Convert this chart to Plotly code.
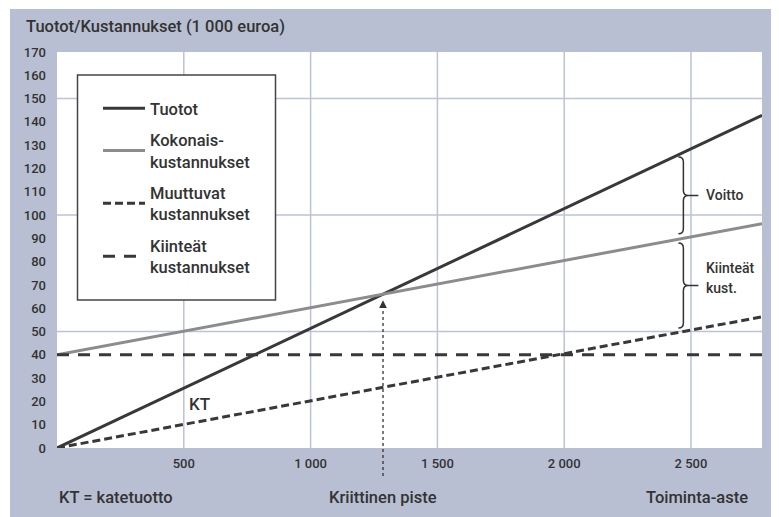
import plotly.graph_objects as go

# ---- data ----
toiminta_aste = [0, 2780]          # activity level (x)
tuotot = [0, 142.8]                # revenue
kokonaiskust = [40, 96.3]          # total costs
muuttuvat = [0, 56.3]              # variable costs
kiinteat = [40, 40]                # fixed costs

x_tick_vals = [500, 1000, 1500, 2000, 2500]
x_tick_text = ["500", "1 000", "1 500", "2 000", "2 500"]
y_tick_vals = list(range(0, 171, 10))
y_grid_vals = [50, 100, 150]
brace_x = 2470

# ---- styling ----
OFF = 8                      # page body margin (screen px)
W, H = 779, 517
# plot area in screen pixels: x 57..762, y 52..448
ML, MT = 57 - OFF, 52 - OFF
MR, MB = W - (762 - OFF), H - (448 - OFF)
PW, PH = W - ML - MR, H - MT - MB
BG = "#b8bfd2"
GRID = "#bcc3d7"
DARK = "#383838"
GRAY = "#8c8c8c"
TXT = "#333333"
FONT = "Roboto, DejaVu Sans Condensed, sans-serif"
XMAX, YMAX = toiminta_aste[-1], 170


def px_x(p):  # screen pixel -> paper
    return (p - OFF - ML) / PW


def px_y(p):
    return (H - MB - (p - OFF)) / PH


def lerp(xs, ys, x):
    return ys[0] + (ys[1] - ys[0]) * (x - xs[0]) / (xs[1] - xs[0])


fig = go.Figure()
fig.add_trace(go.Scatter(x=toiminta_aste, y=tuotot, mode="lines", name="Tuotot",
                         line=dict(color=DARK, width=3), legendgroup="a"))
fig.add_trace(go.Scatter(x=toiminta_aste, y=kokonaiskust, mode="lines", name="Kokonais-<br>kustannukset",
                         line=dict(color=GRAY, width=3), legendgroup="b"))
fig.add_trace(go.Scatter(x=toiminta_aste, y=muuttuvat, mode="lines", name="Muuttuvat<br>kustannukset",
                         line=dict(color=DARK, width=3, dash="8px,4px"), legendgroup="c"))
fig.add_trace(go.Scatter(x=toiminta_aste, y=kiinteat, mode="lines", name="Kiinteät<br>kustannukset",
                         line=dict(color=DARK, width=3, dash="12px,9px"), legendgroup="d"))

shapes = []
# thin white outer margins
shapes.append(dict(type="rect", xref="paper", yref="paper", x0=px_x(0), x1=px_x(10), y0=px_y(H + 20), y1=px_y(0),
                   fillcolor="white", line=dict(width=0), layer="below"))
shapes.append(dict(type="rect", xref="paper", yref="paper", x0=px_x(0), x1=px_x(W + 20), y0=px_y(9), y1=px_y(0),
                   fillcolor="white", line=dict(width=0), layer="below"))
# gridlines
for v in x_tick_vals:
    shapes.append(dict(type="line", xref="x", yref="paper", x0=v, x1=v, y0=0, y1=1,
                       line=dict(color=GRID, width=1.5), layer="below"))
for v in y_grid_vals:
    shapes.append(dict(type="line", xref="paper", yref="y", x0=0, x1=1, y0=v, y1=v,
                       line=dict(color=GRID, width=1.5), layer="below"))
# legend box
shapes.append(dict(type="rect", xref="paper", yref="paper", x0=px_x(77.5), x1=px_x(275.5),
                   y0=px_y(300), y1=px_y(75), fillcolor="white", line=dict(color="#444444", width=1.5),
                   layer="below"))

# break-even point
slope_r = (tuotot[1] - tuotot[0]) / (toiminta_aste[1] - toiminta_aste[0])
slope_c = (kokonaiskust[1] - kokonaiskust[0]) / (toiminta_aste[1] - toiminta_aste[0])
be_x = (kokonaiskust[0] - tuotot[0]) / (slope_r - slope_c)
be_y = tuotot[0] + slope_r * be_x
shapes.append(dict(type="line", xref="x", yref="paper", x0=be_x, x1=be_x, y0=px_y(476), y1=be_y / YMAX - 0.03,
                   line=dict(color=TXT, width=1.3, dash="dot"), layer="above"))

# braces
ux = XMAX / PW  # data units per px
uy = YMAX / PH


def brace(x0, top, bot):
    mid = (top + bot) / 2
    hw, ry = 5 * ux, 5 * uy
    p = (f"M{x0 - hw},{top} Q{x0},{top} {x0},{top - ry} L{x0},{mid + ry} "
         f"Q{x0},{mid} {x0 + hw},{mid} Q{x0},{mid} {x0},{mid - ry} "
         f"L{x0},{bot + ry} Q{x0},{bot} {x0 - hw},{bot} "
         f"M{x0 + hw},{mid} L{x0 + 15 * ux},{mid}")
    return dict(type="path", xref="x", yref="y", path=p, line=dict(color=TXT, width=1.5), layer="above"), mid


r_b = lerp(toiminta_aste, tuotot, brace_x)
t_b = lerp(toiminta_aste, kokonaiskust, brace_x)
v_b = lerp(toiminta_aste, muuttuvat, brace_x)
s1, m1 = brace(brace_x, r_b - 2, t_b + 2)
s2, m2 = brace(brace_x, t_b - 2, v_b + 1.5)
shapes += [s1, s2]

F = lambda s: dict(size=s, color=TXT, family=FONT, weight=500)

ann = []
ann.append(dict(text="Tuotot/Kustannukset (1 000 euroa)", xref="paper", yref="paper", x=px_x(24), y=px_y(27),
                xanchor="left", yanchor="middle", showarrow=False, font=F(16.5)))
ann.append(dict(text="Voitto", xref="x", yref="y", x=brace_x + 21 * ux, y=m1, xanchor="left", yanchor="middle",
                showarrow=False, font=F(14)))
ann.append(dict(text="Kiinteät", xref="x", yref="y", x=brace_x + 21 * ux, y=m2 + 17 * uy, xanchor="left",
                yanchor="middle", showarrow=False, font=F(14)))
ann.append(dict(text="kust.", xref="x", yref="y", x=brace_x + 21 * ux, y=m2 - 3 * uy, xanchor="left",
                yanchor="middle", showarrow=False, font=F(14)))
ann.append(dict(text="KT", xref="x", yref="y", x=560, y=19, xanchor="center", yanchor="middle",
                showarrow=False, font=F(17)))
ann.append(dict(text="", xref="x", yref="y", x=be_x, y=be_y, ax=0, ay=14, showarrow=True, arrowhead=2,
                arrowsize=1.3, arrowwidth=1.2, arrowcolor=TXT, standoff=6))
for txt, xp, anc in [("KT = katetuotto", 57, "left"), ("Kriittinen piste", 383, "center"),
                     ("Toiminta-aste", 750, "right")]:
    ann.append(dict(text=txt, xref="paper", yref="paper", x=px_x(xp), y=px_y(497), xanchor=anc,
                    yanchor="middle", showarrow=False, font=F(16.5)))

TICKF = dict(family=FONT, size=13, color=TXT, weight=500)

fig.update_layout(
    width=W, height=H, margin=dict(l=ML, r=MR, t=MT, b=MB, pad=0),
    paper_bgcolor=BG, plot_bgcolor="white",
    shapes=shapes, annotations=ann,
    showlegend=True,
    legend=dict(x=px_x(98), y=px_y(91), xanchor="left", yanchor="top", bgcolor="rgba(0,0,0,0)",
                borderwidth=0, font=F(16.5), itemwidth=42,
                tracegroupgap=7, traceorder="grouped"),
    xaxis=dict(range=[0, XMAX], tickvals=x_tick_vals, ticktext=x_tick_text, showgrid=False, zeroline=False,
               showline=False, ticks="", ticklabelstandoff=6, tickfont=TICKF),
    yaxis=dict(range=[0, YMAX], tickvals=y_tick_vals, showgrid=False, zeroline=False, showline=False,
               ticks="", ticklabelstandoff=10, tickfont=TICKF),
)

fig.write_html("out.html")
